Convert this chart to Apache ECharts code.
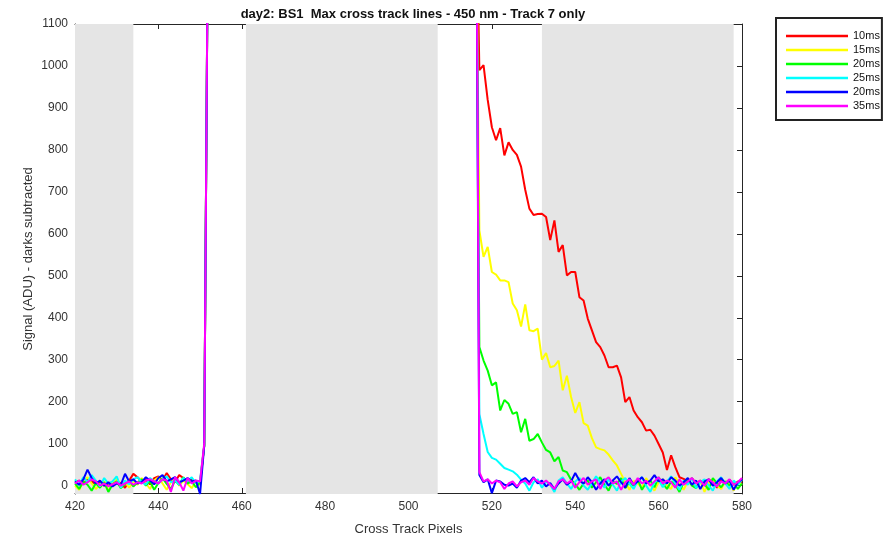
<!DOCTYPE html>
<html><head><meta charset="utf-8">
<script src="https://cdn.jsdelivr.net/npm/echarts@6/dist/echarts.min.js"></script>
<style>html,body{margin:0;padding:0;background:#fff}#c{width:893px;height:536px}</style>
</head><body><div id="c"></div>
<script>
// ---- data ----
const legendLabels = ['10ms', '15ms', '20ms', '25ms', '20ms', '35ms'];
const lineColors = ['#ff0000', '#ffff00', '#00ff00', '#00ffff', '#0000ff', '#ff00ff'];
const leftStart = 420;   // first pixel of left segment
const rightStart = 516;  // first pixel of right segment
const xTicks = [420, 440, 460, 480, 500, 520, 540, 560, 580];
const yTicks = [0, 100, 200, 300, 400, 500, 600, 700, 800, 900, 1000, 1100];
const grayBands = [[420, 434], [461, 507], [532, 578]];

const redLeft = [8, 12, 5, 15, 10, 3, 8, 0, 5, 2, 10, 6, -5, 12, 28, 20, 10, 14, 3, 18, 22, 12, 30, 15, 8, 25, 18, 10, 14, 8, 5, 95, 1500];
const redRight = [1550, 990, 1002, 919, 854, 823, 852, 787, 818, 800, 788, 760, 705, 660, 645, 647, 648, 640, 585, 632, 557, 573, 501, 509, 509, 449, 441, 398, 370, 342, 330, 310, 282, 282, 286, 258, 199, 211, 179, 163, 151, 131, 133, 119, 99, 79, 37, 72, 44, 20, 16,
  10, 18, 5, 12, 0, 15, 8, -5, 12, 6, 14, 2, 10, 8];

const yellowLeft = [0, -10, 12, 20, 5, -8, 3, 10, -12, 4, 15, 0, 8, -5, 10, 2, 18, 5, -8, 12, 20, 5, -10, 8, 15, 0, 12, 4, -6, 10, 2, 95, 1500];
const yellowRight = [1600, 608, 545, 569, 509, 503, 489, 489, 485, 434, 418, 379, 432, 370, 368, 374, 300, 316, 282, 285, 298, 227, 262, 211, 173, 199, 149, 143, 113, 91, 87, 84, 74, 60, 48, 28, 8,
  -10, 12, 5, -5, 18, 2, -12, 8, 15, 0, -8, 20, 5, -10, 10, 2, -5, 12, -15, 6, 15, 0, -8, 10, 4, -12, 8, 2];

const greenLeft = [5, -8, 10, 2, -12, 6, -5, 8, -15, 3, 10, -6, 4, 12, -2, 8, 15, 0, 10, -10, 6, 18, 4, -8, 12, 2, 20, 5, 10, -4, 8, 95, 1500];
const greenRight = [1700, 330, 298, 274, 239, 246, 179, 204, 195, 171, 175, 127, 159, 107, 111, 123, 103, 85, 79, 58, 68, 36, 32, 14, 4,
  -10, 5, 12, -5, 8, 20, 2, -12, 10, 4, 18, -6, 8, 0, 15, -10, 6, 12, -4, 20, 5, -8, 10, 2, -15, 8, 14, 0, -6, 12, 4, -10, 18, 6, -4, 10, 0, 8, -8, 5];

const cyanLeft = [15, 2, 20, 8, 25, 12, -2, 18, 5, 10, 22, -5, 12, 3, 15, 20, 8, 2, 18, 10, 5, 15, 22, 8, 12, 2, 18, 10, 20, 5, 12, 95, 1500];
const cyanRight = [1800, 170, 123, 80, 66, 62, 52, 42, 38, 34, 26, 14, 5,
  -12, 8, 15, -5, 10, 2, -15, 12, 20, 5, -8, 10, 18, 0, -10, 6, 22, 8, -5, 15, 2, -12, 10, 18, 4, -8, 12, 20, 0, -15, 8, 14, -4, 10, 22, 5, -10, 12, 2, 18, -6, 8, 15, 0, -12, 10, 20, 5, -8, 12, 2, 15];

const blueLeft = [10, 2, 15, 38, 18, 5, 12, 0, 8, -2, 5, 2, 28, 10, 15, 5, 8, 20, 12, 3, 18, 25, 10, 15, 20, 8, 12, 18, 10, 12, -20, 95, 1500];
const blueRight = [1900, 25, 8, 15, -18, 12, 10, 2, 0, 5, -5, 12, 18, 8, 20, 5, 12, -2, 6, -8, 5, 15, 2, 10, 30, 12, 5, 20, 8, -10, 5, 15, 0, 12, 22, 8, -5, 18, 2, 10, 20, 5, 12, 25, 10, 15, 5, 20, 12, 0, 8, 18, 2, 12, -8, 10, 15, 0, 8, 18, 5, 12, -10, 8, 15];

const magentaLeft = [5, 12, 2, 8, 15, 10, 0, 5, -2, 3, 8, 0, 5, 10, 2, 8, 5, 12, 15, 10, 5, 15, 12, -15, 20, 8, -12, 18, 5, 12, 10, 100, 1500];
const magentaRight = [2000, 32, 10, 15, 5, 12, 8, -8, 5, 10, -2, 8, 12, 2, 18, 10, 5, 12, 2, -8, 10, 15, 5, 12, -5, 8, 18, 2, 10, 15, -8, 12, 20, 5, 10, -10, 8, 15, 2, 18, 5, 12, 0, 10, 20, 5, 12, 8, -5, 15, 2, 10, 18, 5, 12, 0, 15, 8, -2, 10, 5, 15, 2, 8, 18];

const allLeft = [redLeft, yellowLeft, greenLeft, cyanLeft, blueLeft, magentaLeft];
const allRight = [redRight, yellowRight, greenRight, cyanRight, blueRight, magentaRight];

// ---- build ----
function build(left, right) {
  const d = left.map((v, i) => [leftStart + i, v]);
  d.push([leftStart + left.length, null]); // gap (saturated, off scale)
  return d.concat(right.map((v, i) => [rightStart + i, v]));
}
// legend needs unique names; duplicates get a trailing space, trimmed on display
const seen = {};
const uniqNames = legendLabels.map(n => { let k = n; while (seen[k]) k += ' '; seen[k] = 1; return k; });

const series = uniqNames.map((name, i) => ({
  name: name,
  type: 'line',
  z: 5,
  symbol: 'none',
  data: build(allLeft[i], allRight[i]),
  lineStyle: { width: 2, color: lineColors[i] },
  itemStyle: { color: lineColors[i] },
  connectNulls: false,
  clip: true,
  silent: true
}));
series[0].markArea = {
  silent: true,
  z: 3,
  itemStyle: { color: '#e5e5e5' },
  data: grayBands.map(b => [{ xAxis: b[0], yAxis: -20 }, { xAxis: b[1], yAxis: 1100 }])
};

const FONT = 'Liberation Sans, Arial, sans-serif';
const axisTxt = { color: '#333', fontSize: 12, fontFamily: FONT };
const plain = v => String(v);
const chart = echarts.init(document.getElementById('c'), null, { renderer: 'canvas' });
chart.setOption({
  animation: false,
  backgroundColor: '#fff',
  title: {
    text: 'day2: BS1  Max cross track lines - 450 nm - Track 7 only',
    left: 408, top: 3, textAlign: 'center',
    textStyle: { fontSize: 13, fontWeight: 'bold', color: '#111', fontFamily: FONT }
  },
  legend: {
    orient: 'vertical', left: 776, top: 18,
    padding: [11, 2, 7, 10],
    icon: 'rect',
    itemWidth: 62, itemHeight: 2.5, itemGap: 0,
    borderColor: '#222', borderWidth: 2,
    backgroundColor: '#fff',
    data: uniqNames,
    formatter: n => n.trim(),
    textStyle: { fontSize: 11, lineHeight: 14, color: '#111', fontFamily: FONT }
  },
  grid: { left: 75, right: 151, top: 24, bottom: 42, containLabel: false, outerBoundsMode: 'none' },
  xAxis: [{
    type: 'value', min: xTicks[0], max: xTicks[xTicks.length - 1], interval: 20,
    position: 'bottom', z: 0, offset: -1,
    name: 'Cross Track Pixels', nameLocation: 'middle', nameGap: 30, nameMoveOverlap: false,
    nameTextStyle: Object.assign({}, axisTxt, { fontSize: 13 }),
    axisLine: { onZero: false, lineStyle: { color: '#262626', width: 1 } },
    axisTick: { inside: true, length: 5, lineStyle: { color: '#262626' } },
    axisLabel: Object.assign({ margin: 8, formatter: plain }, axisTxt),
    splitLine: { show: false }
  }, {
    type: 'value', min: xTicks[0], max: xTicks[xTicks.length - 1], interval: 20,
    position: 'top', z: 0,
    axisLine: { onZero: false, lineStyle: { color: '#262626', width: 1 } },
    axisTick: { inside: true, length: 5, lineStyle: { color: '#262626' } },
    axisLabel: { show: false },
    splitLine: { show: false }
  }],
  yAxis: [{
    type: 'value', min: -20, max: 1100,
    position: 'left', z: 0,
    name: 'Signal (ADU) - darks subtracted', nameLocation: 'middle', nameGap: 40, nameMoveOverlap: false,
    nameTextStyle: Object.assign({}, axisTxt, { fontSize: 13 }),
    axisLine: { show: true, onZero: false, lineStyle: { color: '#262626', width: 1 } },
    axisTick: { show: true, inside: true, length: 5, customValues: yTicks, lineStyle: { color: '#262626' } },
    axisLabel: Object.assign({ margin: 7, customValues: yTicks, formatter: plain }, axisTxt),
    splitLine: { show: false }
  }, {
    type: 'value', min: -20, max: 1100,
    position: 'right', z: 0,
    axisLine: { show: true, onZero: false, lineStyle: { color: '#262626', width: 1 } },
    axisTick: { show: true, inside: true, length: 5, customValues: yTicks, lineStyle: { color: '#262626' } },
    axisLabel: { show: false },
    splitLine: { show: false }
  }],
  series: series
});
</script></body></html>
